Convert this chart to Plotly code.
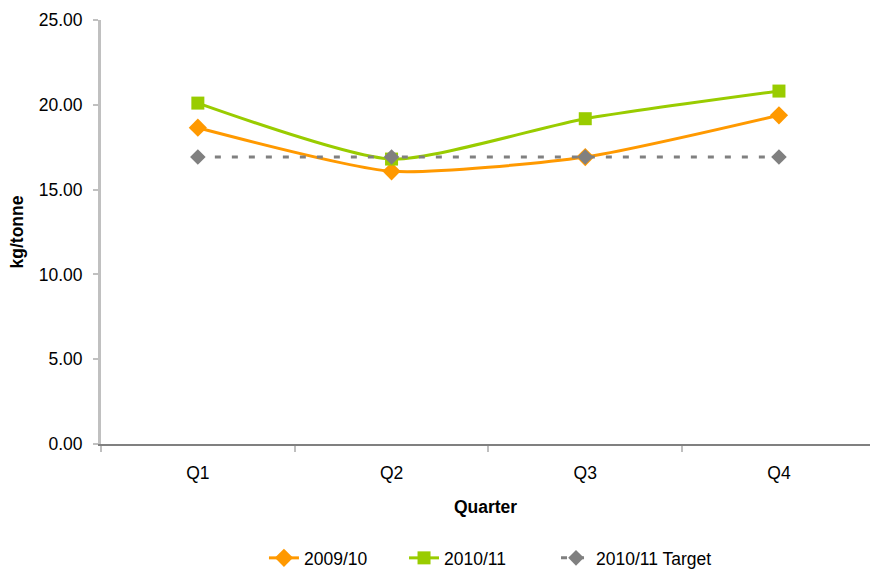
import plotly.graph_objects as go

quarters = ["Q1", "Q2", "Q3", "Q4"]
series_2009 = [18.65, 16.08, 16.92, 19.38]
series_2010 = [20.1, 16.8, 19.18, 20.81]
target_2010 = [16.92, 16.92, 16.92, 16.92]

FONT = "Liberation Sans, Arial, sans-serif"
FS = 17.5

fig = go.Figure()
fig.add_trace(go.Scatter(
    x=quarters, y=series_2009, name="2009/10", mode="lines+markers", legend="legend",
    line=dict(color="#FF9900", width=3, shape="spline", smoothing=0.6),
    marker=dict(symbol="diamond", size=14, color="#FF9900"),
))
fig.add_trace(go.Scatter(
    x=quarters, y=series_2010, name="2010/11", mode="lines+markers", legend="legend2",
    line=dict(color="#99CC00", width=3, shape="spline", smoothing=0.6),
    marker=dict(symbol="square", size=13, color="#99CC00"),
))
fig.add_trace(go.Scatter(
    x=quarters, y=target_2010, name="2010/11 Target", mode="lines+markers", legend="legend3",
    line=dict(color="#808080", width=3, dash="6px,11px"),
    marker=dict(symbol="diamond", size=12, color="#808080"),
))


def legend_at(xpos):
    return dict(orientation="h", xref="container", yref="container",
                x=xpos, xanchor="left", y=0.0245, yanchor="middle",
                font=dict(size=FS), bgcolor="rgba(0,0,0,0)")


fig.update_layout(
    width=870, height=572,
    margin=dict(l=101, r=0, t=20, b=128, autoexpand=False),
    paper_bgcolor="white", plot_bgcolor="white",
    font=dict(family=FONT, size=FS, color="#000000"),
    showlegend=True,
    legend=legend_at(0.3034),
    legend2=legend_at(0.4644),
    legend3=legend_at(0.6391),
    xaxis=dict(
        type="category", range=[-0.5, 3.47],
        showline=True, linecolor="#808080", linewidth=2,
        ticks="outside", tickson="boundaries", ticklen=6, tickcolor="#bfbfbf", tickwidth=2,
        showgrid=False, zeroline=False,
        tickfont=dict(size=FS), ticklabelstandoff=12,
        title=dict(text="<b>Quarter</b>", font=dict(size=FS), standoff=19),
    ),
    yaxis=dict(
        range=[0, 25], dtick=5, tickformat=".2f",
        showline=True, linecolor="#c0c0c0", linewidth=3,
        ticks="outside", ticklen=5, tickcolor="#c0c0c0", tickwidth=2,
        showgrid=False, zeroline=False,
        tickfont=dict(size=FS), ticklabelstandoff=7,
        title=dict(text="<b>kg/tonne</b>", font=dict(size=FS), standoff=11),
    ),
)

fig.write_html("out.html")
